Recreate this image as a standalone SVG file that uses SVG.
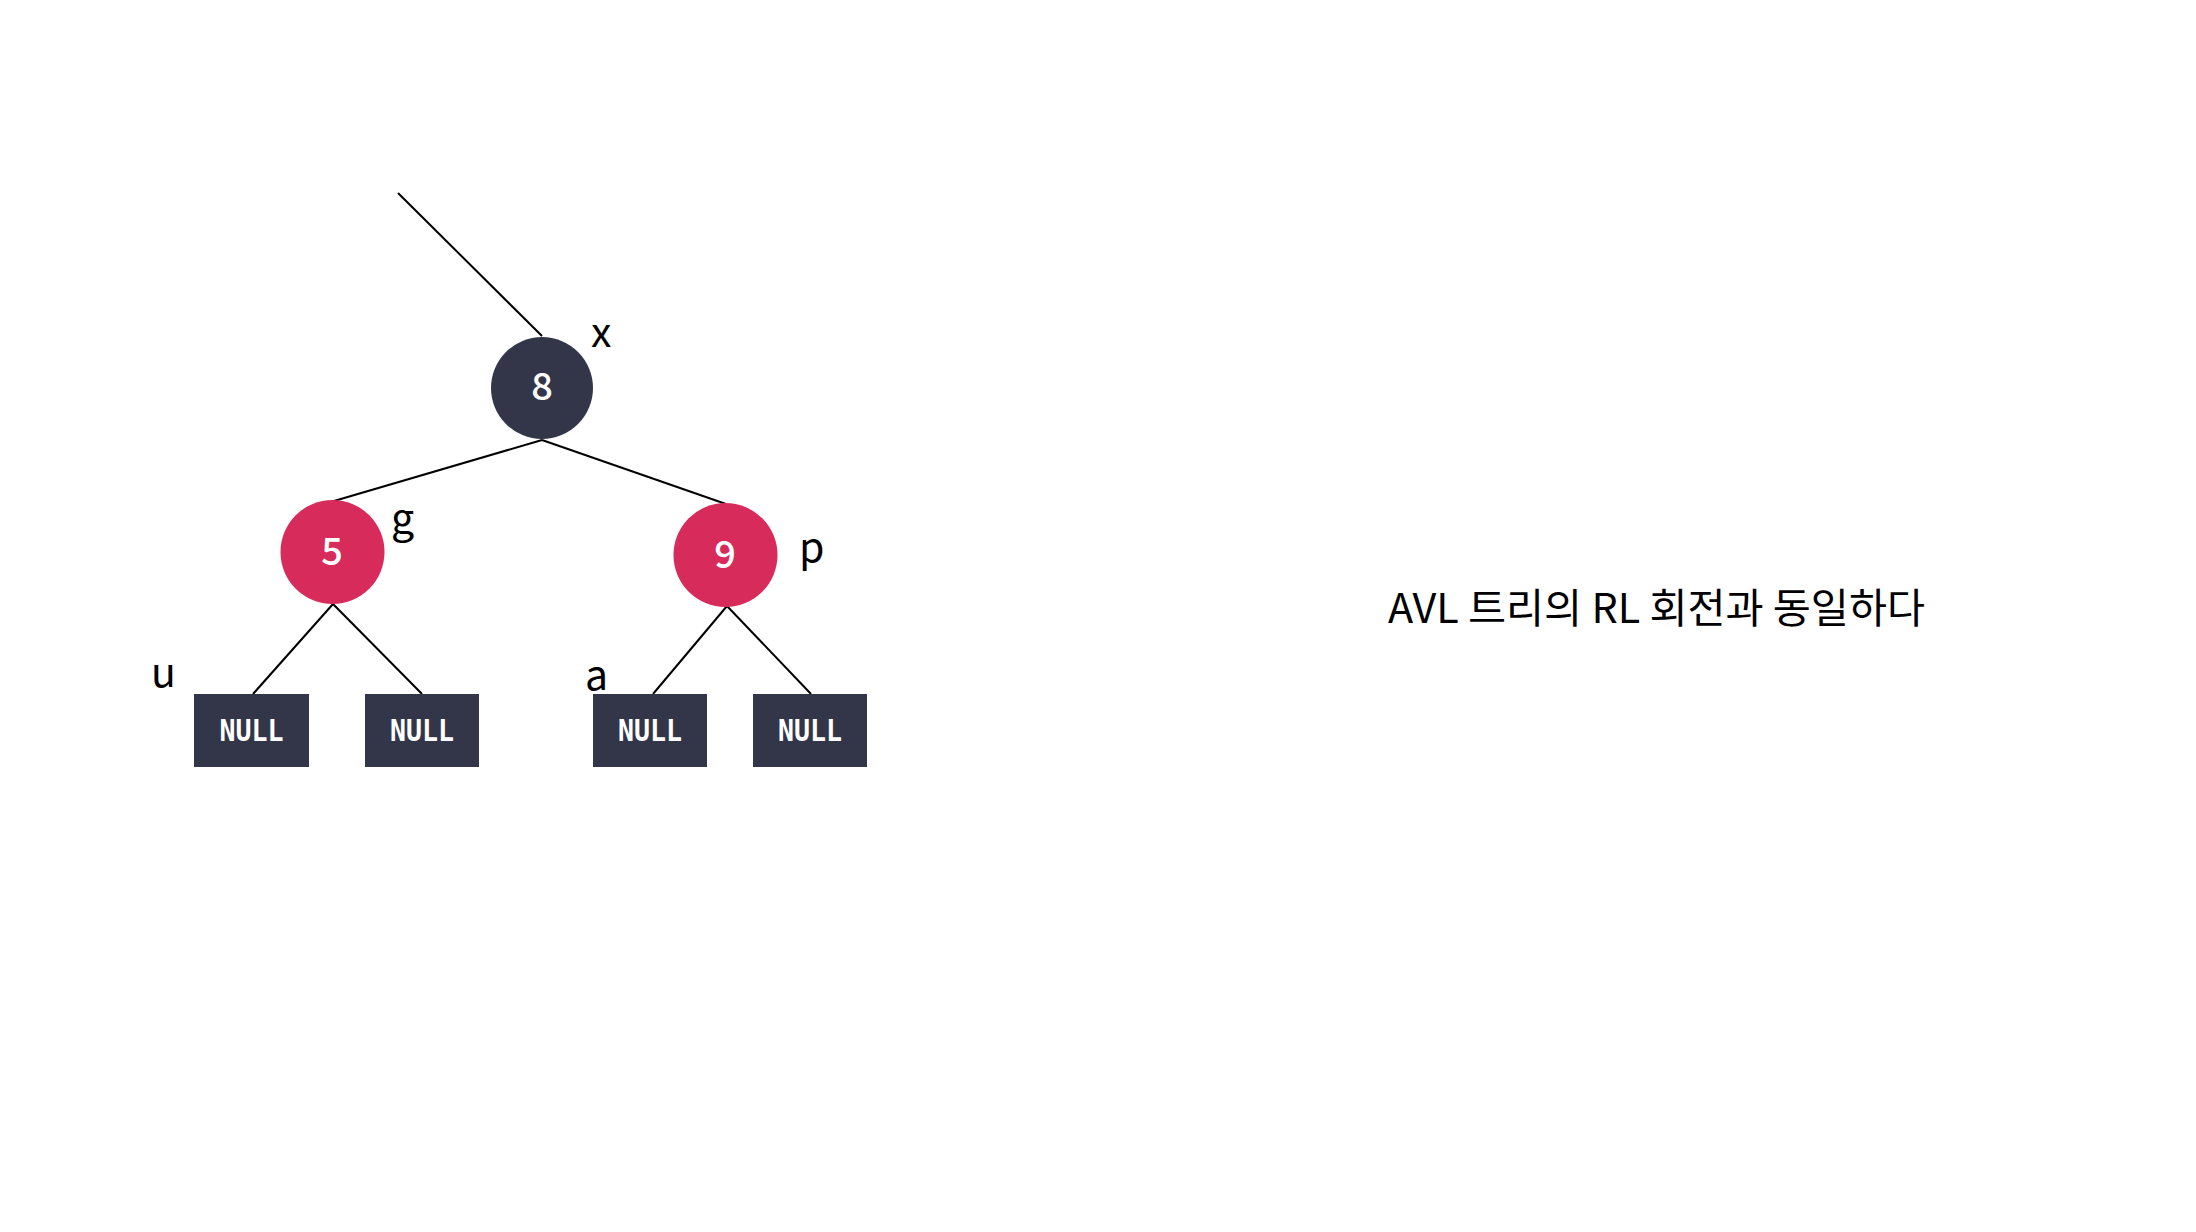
<svg xmlns="http://www.w3.org/2000/svg" width="2196" height="1232" viewBox="0 0 2196 1232">
<style>
.edge{stroke:#000;stroke-width:2;fill:none}
.red{fill:#d62b5b}
.dark{fill:#333649}
.num{fill:#fff;font-family:"Noto Sans CJK KR","Noto Sans",sans-serif;font-weight:500;font-size:38px;text-anchor:middle}
.null{fill:#fff;font-family:"DejaVu Sans Mono",monospace;font-weight:bold;font-size:30px;text-anchor:middle}
.lbl{fill:#000;font-family:"Noto Sans CJK KR","Noto Sans",sans-serif;font-size:41px}
.cap{fill:#000;font-family:"Noto Sans CJK KR","Noto Sans",sans-serif;font-size:41px}
</style>
<rect width="2196" height="1232" fill="#fff"/>
<g id="connectors">
<line class="edge" x1="398" y1="193" x2="542" y2="336"/>
<line class="edge" x1="542" y1="440" x2="334" y2="501"/>
<line class="edge" x1="542" y1="440" x2="726" y2="504"/>
<line class="edge" x1="333" y1="604" x2="253" y2="694"/>
<line class="edge" x1="333" y1="604" x2="422" y2="694"/>
<line class="edge" x1="727" y1="606" x2="653" y2="694"/>
<line class="edge" x1="727" y1="606" x2="811" y2="694"/>
</g>
<g id="node-8">
<circle class="dark" cx="542" cy="388" r="51"/>
<text class="num" x="542" y="400">8</text>
<text class="lbl" x="591" y="347">x</text>
</g>
<g id="node-5">
<circle class="red" cx="332.5" cy="552" r="52"/>
<text class="num" x="332" y="565">5</text>
<text class="lbl" x="391" y="533">g</text>
</g>
<g id="node-9">
<circle class="red" cx="725.5" cy="555" r="52"/>
<text class="num" x="725" y="568">9</text>
<text class="lbl" x="799" y="562">p</text>
</g>
<g id="null-1">
<rect class="dark" x="194" y="694" width="115" height="73"/>
<text class="null" x="251.5" y="741" textLength="64" lengthAdjust="spacingAndGlyphs">NULL</text>
<text class="lbl" x="151" y="687">u</text>
</g>
<g id="null-2">
<rect class="dark" x="365" y="694" width="114" height="73"/>
<text class="null" x="422" y="741" textLength="64" lengthAdjust="spacingAndGlyphs">NULL</text>
</g>
<g id="null-3">
<rect class="dark" x="593" y="694" width="114" height="73"/>
<text class="null" x="650" y="741" textLength="64" lengthAdjust="spacingAndGlyphs">NULL</text>
<text class="lbl" x="585" y="690">a</text>
</g>
<g id="null-4">
<rect class="dark" x="753" y="694" width="114" height="73"/>
<text class="null" x="810" y="741" textLength="64" lengthAdjust="spacingAndGlyphs">NULL</text>
</g>
<g id="caption">
<text class="cap" x="1388" y="623" textLength="537" lengthAdjust="spacingAndGlyphs">AVL 트리의 RL 회전과 동일하다</text>
</g>
</svg>
